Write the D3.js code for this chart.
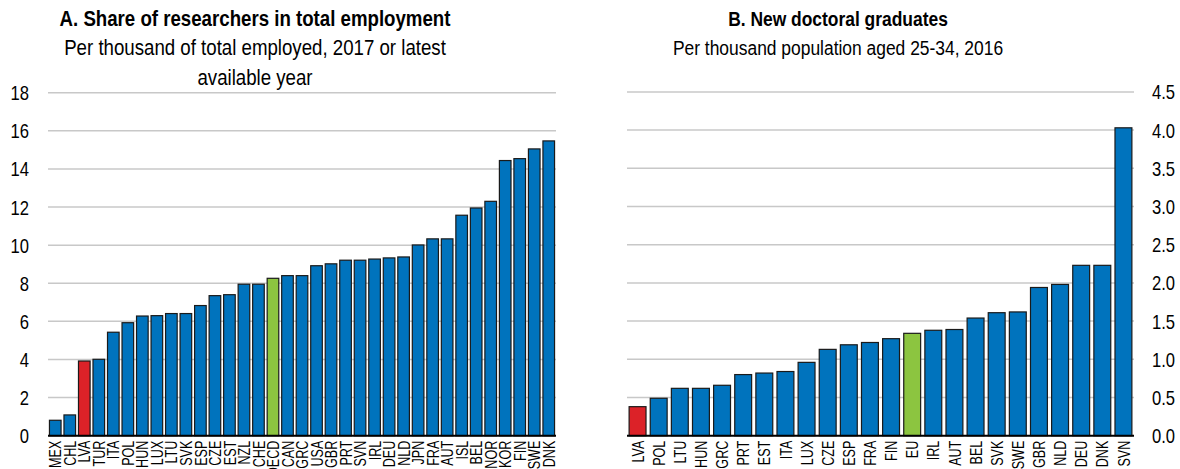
<!DOCTYPE html>
<html>
<head>
<meta charset="utf-8">
<script src="https://cdn.jsdelivr.net/npm/d3@7/dist/d3.min.js"></script>
<style>
  html, body { margin: 0; padding: 0; background: #fff; }
  svg { display: block; }
  text { font-family: "Liberation Sans", Arial, sans-serif; fill: #000; }
</style>
</head>
<body>
<svg id="chart" width="1180" height="469"></svg>
<script>
// Panel A: researchers per thousand employed
const researchCountries = ["MEX","CHL","LVA","TUR","ITA","POL","HUN","LUX","LTU","SVK","ESP","CZE","EST","NZL","CHE","OECD","CAN","GRC","USA","GBR","PRT","SVN","IRL","DEU","NLD","JPN","FRA","AUT","ISL","BEL","NOR","KOR","FIN","SWE","DNK"];
const researchValues = [0.81,1.09,3.92,4.01,5.43,5.93,6.28,6.30,6.41,6.41,6.83,7.35,7.40,7.95,7.95,8.26,8.40,8.40,8.92,9.02,9.21,9.21,9.27,9.33,9.38,10.01,10.33,10.33,11.57,11.95,12.30,14.44,14.54,15.05,15.47];
const researchTicks = [0,2,4,6,8,10,12,14,16,18];

// Panel B: new doctoral graduates per thousand aged 25-34
const doctoralCountries = ["LVA","POL","LTU","HUN","GRC","PRT","EST","ITA","LUX","CZE","ESP","FRA","FIN","EU","IRL","AUT","BEL","SVK","SWE","GBR","NLD","DEU","DNK","SVN"];
const doctoralValues = [0.38,0.49,0.62,0.62,0.66,0.80,0.82,0.84,0.96,1.13,1.19,1.22,1.27,1.34,1.38,1.39,1.54,1.61,1.62,1.94,1.98,2.23,2.23,4.03];
const doctoralTicks = [0,0.5,1.0,1.5,2.0,2.5,3.0,3.5,4.0,4.5];

const COLORS = { base: "#0073bd", latvia: "#dc2228", average: "#8cc540" };
const barColor = c => c === "LVA" ? COLORS.latvia : (c === "OECD" || c === "EU") ? COLORS.average : COLORS.base;

// horizontal condensing so the sans face reads like a narrow cut
const NARROW = 0.83;
const LABEL_NARROW = 0.74;

const svg = d3.select("#chart");

function panel(opts) {
  const g = svg.append("g");
  const x = d3.scaleBand().domain(opts.categories).range([opts.x0, opts.x1]).paddingInner(0.2).paddingOuter(0.1);
  const y = d3.scaleLinear().domain(opts.domain).range([435.7, opts.yTop]);

  // horizontal gridlines
  g.append("g").selectAll("line").data(opts.ticks.filter(t => t > 0)).join("line")
    .attr("x1", opts.x0).attr("x2", opts.x1)
    .attr("y1", d => y(d)).attr("y2", d => y(d))
    .attr("stroke", "#c8c8c8").attr("stroke-width", 1.5);

  // value axis labels
  const axis = (opts.side === "left" ? d3.axisLeft(y) : d3.axisRight(y))
    .tickValues(opts.ticks).tickFormat(opts.format).tickSize(0).tickPadding(0);
  const ag = g.append("g")
    .attr("transform", `translate(${opts.side === "left" ? opts.x0 - 19 : opts.x1 + 18},0)`)
    .call(axis);
  ag.select(".domain").remove();
  ag.selectAll("text")
    .attr("font-size", 20).attr("font-family", null).attr("fill", "#000")
    .attr("x", 0).attr("dy", "0.35em")
    .attr("transform", `scale(${NARROW},1)`);

  // bars
  g.append("g").selectAll("rect").data(opts.categories).join("rect")
    .attr("x", d => x(d))
    .attr("width", x.bandwidth())
    .attr("y", (d, i) => y(opts.values[i]))
    .attr("height", (d, i) => y(0) - y(opts.values[i]))
    .attr("fill", d => barColor(d))
    .attr("stroke", "#1a1a1a").attr("stroke-width", 1.2);

  // baseline
  g.append("line").attr("x1", opts.x0).attr("x2", opts.x1)
    .attr("y1", y(0)).attr("y2", y(0))
    .attr("stroke", "#000").attr("stroke-width", 2);

  // category labels, rotated
  g.append("g").selectAll("text").data(opts.categories).join("text")
    .attr("transform", d => `translate(${x(d) + x.bandwidth() / 2},${y(0) + 5}) rotate(-90) scale(${LABEL_NARROW},1)`)
    .attr("text-anchor", "end").attr("dy", "0.36em")
    .attr("font-size", 17)
    .text(d => d);

  // titles
  const tg = g.append("g").attr("transform", `translate(${opts.titleX},0) scale(${NARROW},1)`);
  tg.append("text").attr("text-anchor", "middle").attr("x", 0).attr("y", 26)
    .attr("font-weight", "bold").attr("font-size", opts.titleSize).text(opts.title);
  opts.subtitle.forEach((line, i) => {
    tg.append("text").attr("text-anchor", "middle").attr("x", 0).attr("y", 55 + i * 30)
      .attr("font-size", opts.titleSize).text(line);
  });
}

panel({
  categories: researchCountries, values: researchValues, ticks: researchTicks,
  domain: [0, 18], yTop: 92.7, x0: 48, x1: 556, side: "left",
  format: d3.format("d"), titleX: 255, titleSize: 22.5,
  title: "A. Share of researchers in total employment",
  subtitle: ["Per thousand of total employed, 2017 or latest", "available year"]
});

panel({
  categories: doctoralCountries, values: doctoralValues, ticks: doctoralTicks,
  domain: [0, 4.5], yTop: 91.9, x0: 627, x1: 1134, side: "right",
  format: d3.format(".1f"), titleX: 838, titleSize: 21,
  title: "B. New doctoral graduates",
  subtitle: ["Per thousand population aged 25-34, 2016"]
});
</script>
</body>
</html>
